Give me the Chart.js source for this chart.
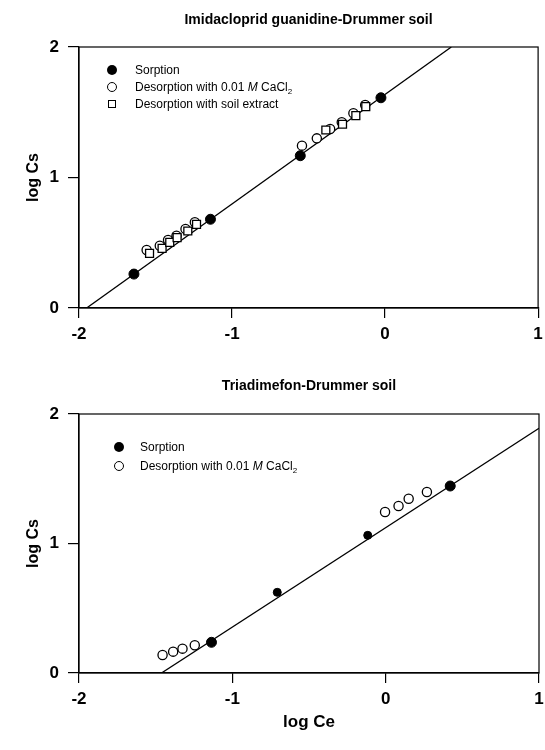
<!DOCTYPE html>
<html><head><meta charset="utf-8">
<script src="https://cdn.jsdelivr.net/npm/chart.js@4"></script>
<style>
html,body{margin:0;padding:0;background:#fff}
body{width:545px;height:750px;position:relative;overflow:hidden;font-family:"Liberation Sans",Arial,sans-serif}
canvas{position:absolute;left:0}
#c1{top:0}
#c2{top:370px}
.lg{position:absolute;font-size:12px;color:#000;white-space:nowrap;line-height:12px;transform:translateY(-50%)}
.lg sub{font-size:8px;vertical-align:-3px;line-height:0}
.mk{position:absolute;box-sizing:border-box;transform:translate(-50%,-50%)}
.fc{width:10px;height:10px;border-radius:50%;background:#000}
.oc{width:10px;height:10px;border-radius:50%;border:1.3px solid #000;background:#fff}
.sq{width:8px;height:8px;border:1.3px solid #000;background:#fff}
</style></head><body>
<canvas id="c1" width="545" height="370" style="width:545px;height:370px"></canvas>
<canvas id="c2" width="545" height="380" style="width:545px;height:380px"></canvas>

<div class="mk fc" style="left:112px;top:70px"></div>
<div class="lg" style="left:135px;top:70px">Sorption</div>
<div class="mk oc" style="left:112px;top:87px"></div>
<div class="lg" style="left:135px;top:87px">Desorption with 0.01 <i>M</i> CaCl<sub>2</sub></div>
<div class="mk sq" style="left:112px;top:104px"></div>
<div class="lg" style="left:135px;top:104px">Desorption with soil extract</div>

<div class="mk fc" style="left:119px;top:447px"></div>
<div class="lg" style="left:140px;top:447px">Sorption</div>
<div class="mk oc" style="left:119px;top:466px"></div>
<div class="lg" style="left:140px;top:466px">Desorption with 0.01 <i>M</i> CaCl<sub>2</sub></div>

<script>
// ---- data ----
const xTicks = [-2, -1, 0, 1];
const yTicks = [0, 1, 2];

// Imidacloprid guanidine - Drummer soil
const imiSorpCe = [-1.641, -1.141, -0.554, -0.027];
const imiSorpCs = [0.26, 0.68, 1.167, 1.611];
const imiDesCaCe = [-1.558, -1.472, -1.418, -1.363, -1.304, -1.243, -0.543, -0.446, -0.359, -0.283, -0.207, -0.13];
const imiDesCaCs = [0.444, 0.477, 0.521, 0.554, 0.605, 0.657, 1.244, 1.30, 1.372, 1.423, 1.492, 1.556];
const imiDesSoilCe = [-1.539, -1.457, -1.407, -1.359, -1.289, -1.232, -0.387, -0.278, -0.191, -0.126];
const imiDesSoilCs = [0.419, 0.457, 0.503, 0.539, 0.590, 0.641, 1.364, 1.408, 1.474, 1.543];
const imiFitCe = [-1.95, 0.433];
const imiFitCs = [0, 2];

// Triadimefon - Drummer soil
const triSorpCe = [-1.136, -0.707, -0.117, 0.421];
const triSorpCs = [0.237, 0.623, 1.063, 1.444];
const triDesCaCe = [-1.455, -1.386, -1.325, -1.245, -0.004, 0.084, 0.15, 0.269];
const triDesCaCs = [0.139, 0.165, 0.188, 0.214, 1.243, 1.29, 1.346, 1.398];
const triFitCe = [-1.462, 1.0];
const triFitCs = [0, 1.89];

// ---- helpers ----
const FONT = '"Liberation Sans", Arial, sans-serif';
const pts = (xs, ys) => xs.map((x, i) => ({x: x, y: ys[i]}));

const boxPlugin = {
  id: 'box',
  afterDatasetsDraw(chart) {
    const a = chart.chartArea, ctx = chart.ctx;
    ctx.save();
    ctx.strokeStyle = '#000';
    ctx.lineWidth = 1.2;
    ctx.strokeRect(a.left, a.top, a.right - a.left, a.bottom - a.top);
    ctx.restore();
  }
};

function makeScales(xHeight, xTitle) {
  return {
    x: {
      type: 'linear', min: -2, max: 1,
      afterBuildTicks: s => { s.ticks = xTicks.map(v => ({value: v})); },
      afterFit: s => { s.height = xHeight; s.paddingLeft = 0; s.paddingRight = 0; },
      grid: {drawOnChartArea: false, drawTicks: true, tickLength: 10, color: '#000', lineWidth: 1.2},
      border: {display: true, color: '#000', width: 1.2},
      ticks: {color: '#000', padding: 6, maxRotation: 0, font: {family: FONT, size: 17, weight: 'bold'}},
      title: xTitle ? {display: true, text: xTitle, color: '#000',
        font: {family: FONT, size: 17, weight: 'bold'}, padding: {top: 0, bottom: 17.8}} : {display: false}
    },
    y: {
      type: 'linear', min: 0, max: 2,
      afterBuildTicks: s => { s.ticks = yTicks.map(v => ({value: v})); },
      afterFit: s => { s.width = 79; s.paddingTop = 0; s.paddingBottom = 0; },
      grid: {drawOnChartArea: false, drawTicks: true, tickLength: 11, color: '#000', lineWidth: 1.2},
      border: {display: true, color: '#000', width: 1.2},
      ticks: {color: '#000', padding: 9, font: {family: FONT, size: 17, weight: 'bold'}},
      title: {display: true, text: 'log Cs', color: '#000',
        font: {family: FONT, size: 16, weight: 'bold'}, padding: {top: 24, bottom: 0}}
    }
  };
}

const filled = {backgroundColor: '#000', borderColor: '#000', borderWidth: 1, pointStyle: 'circle', showLine: false};
const openC = {backgroundColor: '#fff', borderColor: '#000', borderWidth: 1.3, pointStyle: 'circle', pointRadius: 4.6, showLine: false};
const openSq = {backgroundColor: '#fff', borderColor: '#000', borderWidth: 1.3, pointStyle: 'rect', pointRadius: 5.6, showLine: false};
const fitLine = {type: 'line', showLine: true, borderColor: '#000', borderWidth: 1.3, pointRadius: 0, fill: false, order: 10, tension: 0};

function makeChart(id, title, titlePad, xHeight, xTitle, datasets) {
  return new Chart(document.getElementById(id), {
    type: 'scatter',
    data: {datasets: datasets},
    options: {
      responsive: false, animation: false, devicePixelRatio: 1,
      layout: {padding: {left: 0, right: 5, top: 0, bottom: 0}},
      plugins: {
        legend: {display: false}, tooltip: {enabled: false},
        title: {display: true, text: title, color: '#000', fullSize: false,
          font: {family: FONT, size: 14, weight: 'bold'}, padding: titlePad}
      },
      scales: makeScales(xHeight, xTitle)
    },
    plugins: [boxPlugin]
  });
}

makeChart('c1', 'Imidacloprid guanidine-Drummer soil', {top: 12, bottom: 18.2}, 62, null, [
  Object.assign({label: 'Sorption', data: pts(imiSorpCe, imiSorpCs), pointRadius: 5, order: 1}, filled),
  Object.assign({label: 'Desorption with 0.01 M CaCl2', data: pts(imiDesCaCe, imiDesCaCs), order: 3}, openC),
  Object.assign({label: 'Desorption with soil extract', data: pts(imiDesSoilCe, imiDesSoilCs), order: 2}, openSq),
  Object.assign({label: 'fit', data: pts(imiFitCe, imiFitCs)}, fitLine)
]);

makeChart('c2', 'Triadimefon-Drummer soil', {top: 7.6, bottom: 19.6}, 77, 'log Ce', [
  Object.assign({label: 'Sorption', data: pts(triSorpCe, triSorpCs), pointRadius: [5, 4, 4, 5], order: 1}, filled),
  Object.assign({label: 'Desorption with 0.01 M CaCl2', data: pts(triDesCaCe, triDesCaCs), order: 2}, openC),
  Object.assign({label: 'fit', data: pts(triFitCe, triFitCs)}, fitLine)
]);
</script>
</body></html>
